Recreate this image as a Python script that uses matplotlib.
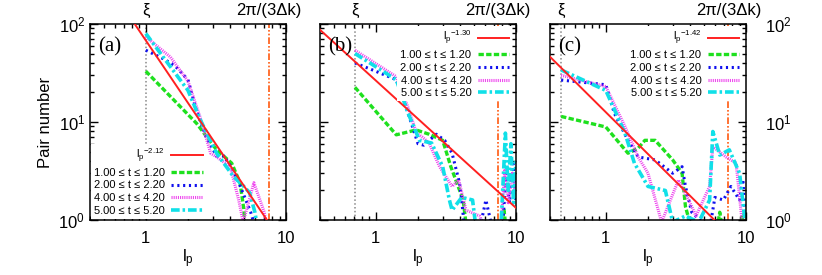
import numpy as np
import matplotlib
matplotlib.use('Agg')
import matplotlib.pyplot as plt
from matplotlib.ticker import FixedLocator, LogLocator, NullFormatter, FixedFormatter

plt.rcParams['font.family'] = ['Liberation Sans', 'DejaVu Sans']
plt.rcParams['mathtext.fontset'] = 'custom'
plt.rcParams['mathtext.rm'] = 'Liberation Sans'
plt.rcParams['mathtext.it'] = 'Liberation Sans'
plt.rcParams['mathtext.bf'] = 'Liberation Sans:bold'

# panel settings
PANELS = ['(a)', '(b)', '(c)']
XI = [1.0, 0.71, 0.48]
K_LINE = [7.6, 7.45, 7.5]
EXPONENTS = [2.12, 1.30, 1.42]
PREFACTORS = [68.0, 26.5, 12.6]
LABELS = ['1.00 \u2264 t \u2264 1.20', '2.00 \u2264 t \u2264 2.20',
          '4.00 \u2264 t \u2264 4.20', '5.00 \u2264 t \u2264 5.20']

# panel (a)
A_GREEN_X = [1.0, 2.3, 3.2, 4.1, 4.7, 5.0, 5.1]
A_GREEN_Y = [33, 9.7, 5.2, 3.8, 2.4, 1.3, 0.8]
A_BLUE_X = [1.0, 1.3, 1.6, 2.0, 2.3, 2.7, 3.2, 3.6, 4.0, 4.5, 5.0, 5.6, 6.1]
A_BLUE_Y = [54, 45, 38, 27, 13, 7.0, 4.5, 4.5, 3.6, 2.6, 1.8, 1.2, 0.8]
A_PINK_X = [1.0, 1.5, 2.0, 2.45, 2.9, 3.2, 4.0, 4.6, 4.95, 5.9, 7.0, 7.3]
A_PINK_Y = [74, 46, 26, 11, 4.8, 4.4, 3.5, 1.6, 0.95, 2.4, 1.2, 0.8]
A_CYAN_X = [1.0, 2.0, 2.45, 3.2, 4.2, 5.0, 5.5, 6.0, 6.3]
A_CYAN_Y = [80, 21, 10.5, 4.8, 2.8, 2.2, 1.9, 1.2, 0.8]

# panel (b)
B_GREEN_X = [0.71, 1.4, 1.94, 2.4, 3.0, 3.43, 4.2, 4.45, 7.9, 8.2, 8.5]
B_GREEN_Y = [22.6, 7.4, 8.3, 7.5, 6.5, 3.5, 1.6, 0.8, 0.8, 1.3, 0.8]
B_BLUE_X = [0.71, 0.9, 1.4, 1.65, 2.0, 2.2, 2.7, 3.1, 3.5, 3.95, 4.1, 4.3,
            5.5, 6.1, 6.8, 8.0, 8.5, 9.0, 9.5, 10.0]
B_BLUE_Y = [40, 35, 27, 14, 6.0, 5.8, 7.5, 6.5, 4.8, 2.4, 1.6, 0.8,
            0.8, 1.6, 0.8, 0.8, 3.0, 1.5, 4.0, 1.5]
B_PINK_X = [0.71, 1.4, 1.7, 1.95, 2.15, 2.4, 2.85, 3.5, 3.9, 4.4, 5.5, 6.0,
            7.8, 8.3, 8.8, 9.4, 10.0]
B_PINK_Y = [54, 29, 14, 7.7, 7.0, 6.1, 3.5, 2.2, 2.56, 1.26, 1.1, 0.8,
            0.8, 3.2, 1.5, 3.0, 1.8]
B_CYAN_X = [0.71, 1.4, 1.7, 2.05, 2.5, 3.0, 3.35, 3.5, 4.1, 4.9, 5.2,
            7.8, 8.4, 8.8, 9.2, 9.6, 10.0]
B_CYAN_Y = [50, 27, 12.3, 6.5, 6.1, 3.5, 1.6, 1.26, 1.7, 1.6, 0.8,
            0.8, 7.7, 2.0, 6.0, 1.5, 4.0]

# panel (c)
C_GREEN_X = [0.48, 1.0, 1.44, 1.7, 1.9, 2.25, 3.0, 3.5, 3.7, 4.1, 6.2, 6.5, 6.8, 9.0, 9.5, 10.0]
C_GREEN_Y = [11.4, 8.9, 4.8, 5.4, 6.5, 6.5, 4.1, 3.0, 1.37, 0.8, 0.8, 1.2, 0.8, 0.8, 1.1, 0.8]
C_BLUE_X = [0.48, 1.0, 1.15, 1.44, 1.7, 2.25, 3.0, 3.5, 3.7, 4.1, 5.5, 6.0, 6.9, 7.8, 9.0, 9.5, 10.0]
C_BLUE_Y = [26.8, 24, 12.3, 6.5, 4.4, 4.1, 3.0, 3.5, 2.2, 1.2, 0.8, 1.7, 1.6, 2.2, 1.6, 2.6, 0.8]
C_PINK_X = [0.48, 1.0, 1.37, 1.7, 2.0, 2.5, 3.3, 3.9, 4.4, 5.5, 5.8, 7.2, 8.5, 9.5]
C_PINK_Y = [30, 23, 9.0, 4.4, 3.0, 0.95, 2.56, 1.6, 1.1, 2.2, 5.6, 4.4, 3.8, 0.8]
C_CYAN_X = [0.48, 1.0, 1.37, 1.6, 2.0, 2.66, 3.0, 3.7, 4.6, 5.5, 5.8, 6.5, 7.6, 9.0, 10.0]
C_CYAN_Y = [34, 21, 7.7, 3.8, 2.2, 2.0, 0.95, 1.1, 0.95, 1.6, 8.0, 4.6, 5.2, 3.0, 0.8]

SERIES = [
    [(A_GREEN_X, A_GREEN_Y), (A_BLUE_X, A_BLUE_Y), (A_PINK_X, A_PINK_Y), (A_CYAN_X, A_CYAN_Y)],
    [(B_GREEN_X, B_GREEN_Y), (B_BLUE_X, B_BLUE_Y), (B_PINK_X, B_PINK_Y), (B_CYAN_X, B_CYAN_Y)],
    [(C_GREEN_X, C_GREEN_Y), (C_BLUE_X, C_BLUE_Y), (C_PINK_X, C_PINK_Y), (C_CYAN_X, C_CYAN_Y)],
]

STYLES = [
    dict(color='#1ee01e', lw=2.4, dashes=(1.6, 0.7)),
    dict(color='#1010ee', lw=2.2, dashes=(0.7, 1.2)),
    dict(color='#ee44ee', lw=2.2, dashes=(0.35, 0.35)),
    dict(color='#10e0e8', lw=2.6, dashes=(2.4, 0.8, 0.7, 0.8)),
]

fig = plt.figure(figsize=(8.22, 2.75), dpi=100)
lefts = [90, 320, 550]
W, H = 822.0, 275.0

for i in range(3):
    ax = fig.add_axes([lefts[i] / W, 1 - 220 / H, 196 / W, 196 / H])
    ax.set_xscale('log')
    ax.set_yscale('log')
    ax.set_xlim(0.4, 10)
    ax.set_ylim(1, 100)

    ax.axvline(XI[i], color='#888888', lw=1.1, ls=(0, (1, 1.5)), zorder=1)
    ax.axvline(K_LINE[i], color='#ff5a10', lw=1.2, ls=(0, (4, 1.2, 1, 1.2, 1, 1.2)), zorder=1)

    xx = np.logspace(np.log10(0.4), 1, 50)
    ax.plot(xx, PREFACTORS[i] * xx ** (-EXPONENTS[i]), color='#ff2020', lw=1.4,
            label=r'$\mathregular{l_p{}^{-%.2f}}$' % EXPONENTS[i], zorder=3)
    for (sx, sy), st, lab in zip(SERIES[i], STYLES, LABELS):
        ax.plot(sx, sy, label=lab, zorder=2, solid_capstyle='butt', dash_capstyle='butt', **st)

    ax.text(0.04, 0.93, PANELS[i], transform=ax.transAxes, fontsize=15,
            family='Liberation Serif', va='top', ha='left')
    ax.text(XI[i], 1.07, '\u03be', transform=ax.get_xaxis_transform(),
            ha='center', va='center', fontsize=12)
    ax.text(K_LINE[i], 1.07, '2\u03c0/(3\u0394k)', transform=ax.get_xaxis_transform(),
            ha='center', va='center', fontsize=12)

    ax.xaxis.set_major_locator(FixedLocator([1, 10]))
    ax.xaxis.set_major_formatter(FixedFormatter(['1', '10']))
    ax.xaxis.set_minor_locator(LogLocator(base=10, subs=np.arange(2, 10)))
    ax.xaxis.set_minor_formatter(NullFormatter())
    ax.yaxis.set_minor_locator(LogLocator(base=10, subs=np.arange(2, 10)))
    ax.yaxis.set_minor_formatter(NullFormatter())
    ax.tick_params(which='both', direction='in', top=True, right=True, labelsize=12)
    ax.tick_params(which='major', length=6, width=1)
    ax.tick_params(which='minor', length=3, width=1)
    ax.tick_params(axis='x', pad=8)
    for sp in ax.spines.values():
        sp.set_linewidth(1.1)

    if i == 0:
        ax.set_ylabel('Pair number', fontsize=12, labelpad=4)
    elif i == 1:
        ax.tick_params(axis='y', labelleft=False)
    else:
        ax.tick_params(axis='y', labelleft=False, labelright=True, pad=14)
    ax.set_xlabel(r'$\mathregular{l_p}$', fontsize=12, labelpad=1)

    if i == 0:
        loc, anchor = 'lower right', (0.60, -0.005)
    else:
        loc, anchor = 'upper right', (0.99, 1.0)
    leg = ax.legend(loc=loc, bbox_to_anchor=anchor,
                    markerfirst=False, fontsize=8, handlelength=2.8, handletextpad=0.6,
                    labelspacing=0.25, borderpad=0.25, borderaxespad=0.2,
                    frameon=True, fancybox=False, framealpha=1,
                    facecolor='white', edgecolor='none')
    leg.set_zorder(5)

fig.savefig('out.png', dpi=100)
